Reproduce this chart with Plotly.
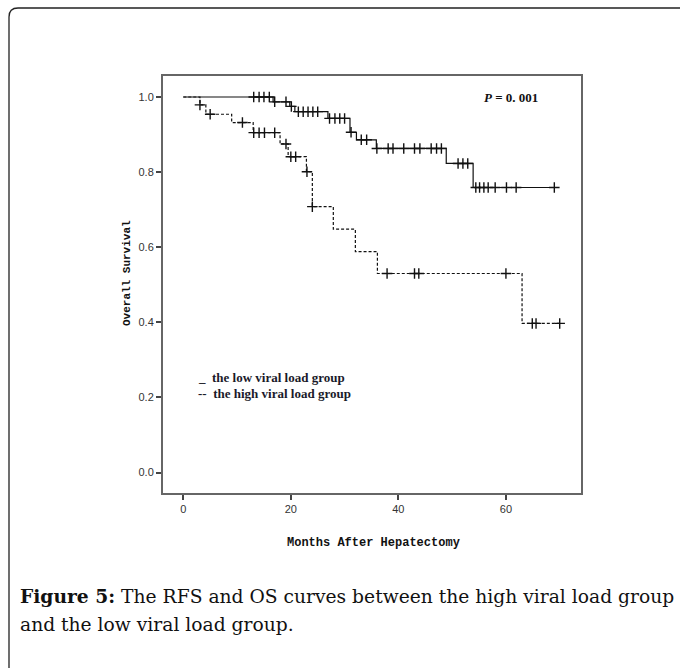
import numpy as np
import plotly.graph_objects as go

# Kaplan-Meier step data (event times in months, survival after event)
low_times = [0, 16.7, 19.8, 20.75, 26.9, 31.0, 32.2, 35.9, 48.9, 53.9]
low_surv = [1.0, 0.987, 0.975, 0.961, 0.943, 0.906, 0.886, 0.863, 0.823, 0.759]
low_end = 69.0
low_censor = [13.1, 14.1, 15.0, 16.0, 17.0, 19.1, 20.1, 21.4, 22.3, 23.2, 24.1, 25.0,
              27.2, 28.2, 29.1, 30.0, 31.2, 33.1, 34.1, 36.0, 38.1, 39.0, 41.0, 43.0,
              44.0, 46.1, 47.1, 48.0, 51.1, 52.0, 52.9, 54.4, 55.1, 55.9, 56.7, 58.0,
              60.1, 61.9, 69.0]

high_times = [0, 3.1, 4.2, 9.0, 13.0, 18.0, 19.5, 22.9, 24.0, 27.9, 32.0, 36.1, 63.0]
high_surv = [1.0, 0.979, 0.954, 0.932, 0.905, 0.875, 0.841, 0.801, 0.708, 0.648, 0.588, 0.530, 0.397]
high_end = 70.0
high_censor = [3.1, 5.0, 11.0, 13.1, 14.1, 15.1, 17.0, 19.1, 20.0, 20.9, 23.0, 24.0,
               37.9, 43.0, 43.8, 60.0, 64.9, 65.6, 70.0]

x_ticks = [0, 20, 40, 60]
y_ticks = [0.0, 0.2, 0.4, 0.6, 0.8, 1.0]


def km_at(times, surv, t):
    idx = np.searchsorted(np.array(times), np.array(t), side="right") - 1
    return list(np.array(surv)[idx])


fig = go.Figure()


def add_group(times, surv, end, censor, dash):
    fig.add_trace(go.Scatter(
        x=list(times) + [end], y=list(surv) + [surv[-1]],
        mode="lines", line=dict(shape="hv", color="#111", width=1.2, dash=dash),
        showlegend=False, hoverinfo="skip"))
    fig.add_trace(go.Scatter(
        x=censor, y=km_at(times, surv, censor), mode="markers",
        marker=dict(symbol="cross-thin", size=7.5, line=dict(color="#111", width=1.4)),
        showlegend=False, hoverinfo="skip"))


add_group(low_times, low_surv, low_end, low_censor, "solid")
add_group(high_times, high_surv, high_end, high_censor, "3px,2px")

L, R, T, B = 163, 99, 76, 175
W, H = 680 - L - R, 668 - T - B


def px(x):
    return (x - L) / W


def py(y):
    return (668 - B - y) / H


frame = (f"M {px(9)},{py(680)} L {px(9)},{py(17)} Q {px(9)},{py(8)} {px(18)},{py(8)} "
         f"L {px(700)},{py(8)}")

axis_common = dict(showgrid=False, zeroline=False, showline=True, linecolor="#666",
                   linewidth=2, mirror=True, ticks="outside", ticklen=5, tickwidth=1.5,
                   tickcolor="#444", tickfont=dict(family="Liberation Sans", size=11, color="#333"))


def note(x, y, text, family, size, xanchor="center", angle=0, color="#111"):
    return dict(xref="paper", yref="paper", x=px(x), y=py(y), showarrow=False,
                xanchor=xanchor, yanchor="middle", textangle=angle, text=text,
                font=dict(family=family, size=size, color=color))


fig.update_layout(
    width=680, height=668, margin=dict(l=L, r=R, t=T, b=B),
    paper_bgcolor="white", plot_bgcolor="white",
    xaxis=dict(range=[-3.77, 73.96], tickvals=x_ticks, ticktext=[str(v) for v in x_ticks],
               **axis_common),
    yaxis=dict(range=[-0.0546, 1.0559], tickvals=y_ticks,
               ticktext=[f"{v:.1f}" for v in y_ticks], **axis_common),
    shapes=[dict(type="path", xref="paper", yref="paper", path=frame,
                 line=dict(color="#222", width=1.3))],
    annotations=[
        note(373, 543, "<b>Months After Hepatectomy</b>", "Liberation Mono", 12),
        note(127, 273, "<b>Overall Survival</b>", "Liberation Mono", 11, angle=-90),
        note(482, 97, "<b><i>P</i> = 0. 001</b>", "Liberation Serif", 13, xanchor="left"),
        note(196, 377, "<b>_  the low viral load group</b>", "Liberation Serif", 13,
             xanchor="left", color="#1a1a2a"),
        note(196, 393, "<b>--  the high viral load group</b>", "Liberation Serif", 13,
             xanchor="left", color="#1a1a2a"),
        note(18, 596, "<b>Figure 5:</b> The RFS and OS curves between the high viral load group",
             "DejaVu Serif", 18.7, xanchor="left"),
        note(18, 624, "and the low viral load group.", "DejaVu Serif", 18.7, xanchor="left"),
    ],
)

fig.write_html("out.html")
